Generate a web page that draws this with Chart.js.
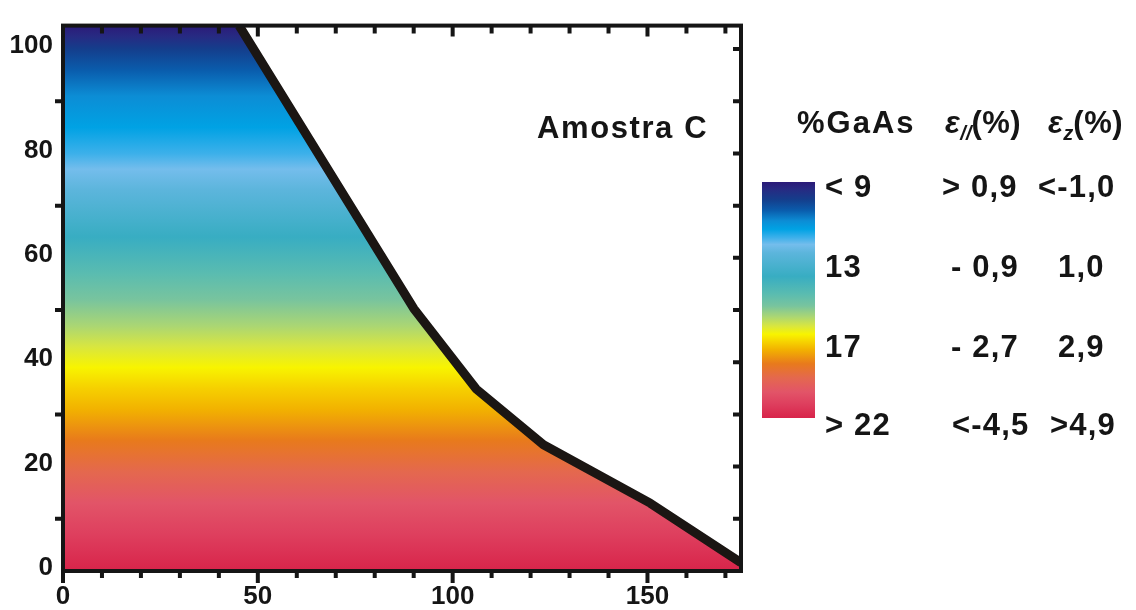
<!DOCTYPE html>
<html>
<head>
<meta charset="utf-8">
<script src="https://cdn.jsdelivr.net/npm/chart.js@4.4.1/dist/chart.umd.min.js"></script>
<style>
  html, body { margin: 0; padding: 0; background: #fff; }
  #wrap { position: relative; width: 1136px; height: 610px; overflow: hidden;
          font-family: "Liberation Sans", Arial, Helvetica, sans-serif; color: #151515; }
  #c { position: absolute; left: 0; top: 0; }
  .t { position: absolute; white-space: nowrap; font-weight: bold; font-size: 31px;
       line-height: 31px; letter-spacing: 1.2px; }
  .eps { font-style: italic; }
  .sub { font-style: italic; font-size: 20px; position: relative; top: 7px; letter-spacing: 0; }
  #bar { position: absolute; left: 762px; top: 182px; width: 53px; height: 236px; }
</style>
</head>
<body>
<div id="wrap">
  <canvas id="c" width="1136" height="610"></canvas>
  <div id="bar"></div>
</div>
<script>
// ---- data ----
const xTicks = [0, 50, 100, 150];
const yTicks = [0, 20, 40, 60, 80, 100];
const xMax = 174;
const yMax = 104.5;

// upper boundary of the GaAs-rich region (first point closes the area along the top edge)
const boundaryX = [0, 45.2, 90, 106, 123.3, 150.7, 174];
const boundaryY = [104.5, 104.5, 50.3, 34.9, 24.2, 13.0, 1.6];

const sampleName = 'Amostra C';
const legendHeaders = ['%GaAs', 'ε//(%)', 'εz(%)'];
const legendGaAs   = ['< 9', '13', '17', '> 22'];
const legendEpsPar = ['> 0,9', '- 0,9', '- 2,7', '<-4,5'];
const legendEpsZ   = ['<-1,0', '1,0', '2,9', '>4,9'];

// ---- styling ----
// colour ramp along the vertical axis (data value, colour)
const rampValues = [0, 7, 13, 19, 25, 31, 35, 39, 43, 47, 52, 57, 64, 73, 77, 80, 85, 91, 96, 100, 102.5, 104.5];
const rampColors = ['#d8244a', '#de3f5e', '#e25468', '#e4684e', '#e87a1c', '#f2b200', '#f6d000', '#f8f400',
                    '#d8e640', '#aad674', '#78c49e', '#5abcb0', '#38adc2', '#5cb5dc', '#74bdec', '#3cb0ea',
                    '#00a2e4', '#0c8dd5', '#0a5cac', '#143e8c', '#272a82', '#2b1a78'];
// where each ramp colour sits on the colour bar (0 = top, 1 = bottom)
const barOffsets = [1.0, 0.94, 0.89, 0.83, 0.77, 0.71, 0.68, 0.645, 0.61, 0.57, 0.525, 0.475, 0.40, 0.30, 0.265,
                    0.235, 0.20, 0.165, 0.12, 0.075, 0.03, 0.0];

const ink = '#151515';
const frameW = 4;

// colour bar
(function () {
  const parts = rampColors.map((c, i) => ({ c, o: barOffsets[i] })).sort((a, b) => a.o - b.o)
    .map(p => `${p.c} ${(p.o * 100).toFixed(1)}%`);
  document.getElementById('bar').style.background = `linear-gradient(to bottom, ${parts.join(', ')})`;
})();

// text block on the right
function addText(html, left, baseline, extra) {
  const d = document.createElement('div');
  d.className = 't';
  d.innerHTML = html;
  d.style.left = left + 'px';
  d.style.top = (baseline - 26.2) + 'px';
  if (extra) Object.assign(d.style, extra);
  document.getElementById('wrap').appendChild(d);
}
function epsHtml(label) {
  // "ε" + subscript + rest
  const sub = label.slice(1, label.indexOf('('));
  const rest = label.slice(label.indexOf('('));
  return `<span class="eps">ε</span><span class="sub">${sub}</span>${rest}`;
}
addText(sampleName, 537, 138, { letterSpacing: '1.6px' });
addText(legendHeaders[0], 797, 133, { letterSpacing: '2px' });
addText(epsHtml(legendHeaders[1]), 945, 133, { letterSpacing: '0.5px' });
addText(epsHtml(legendHeaders[2]), 1048, 133, { letterSpacing: '0.5px' });

const rowBase = [197, 277, 357, 435];
const col2Left = [942, 951, 951, 952];
const col3Left = [1038, 1058, 1058, 1050];
legendGaAs.forEach((s, i) => addText(s, 825, rowBase[i]));
legendEpsPar.forEach((s, i) => addText(s, col2Left[i], rowBase[i]));
legendEpsZ.forEach((s, i) => addText(s, col3Left[i], rowBase[i]));

// ---- chart ----
function rampGradient(ctx) {
  const chart = ctx.chart;
  const { chartArea, scales } = chart;
  if (!chartArea) return null;
  const y0 = scales.y.getPixelForValue(0);
  const y1 = scales.y.getPixelForValue(yMax);
  const g = chart.ctx.createLinearGradient(0, y0, 0, y1);
  rampValues.forEach((v, i) => g.addColorStop(Math.min(1, v / yMax), rampColors[i]));
  return g;
}

const framePlugin = {
  id: 'frame',
  afterDatasetsDraw(chart) {
    const { ctx, chartArea: a, scales: { x, y } } = chart;
    ctx.save();
    ctx.strokeStyle = ink;
    ctx.lineWidth = frameW;
    ctx.lineCap = 'butt';
    ctx.strokeRect(a.left, a.top, a.right - a.left, a.bottom - a.top);
    ctx.beginPath();
    for (let v = 0; v <= 170; v += 10) {
      const px = x.getPixelForValue(v);
      const major = v % 50 === 0;
      ctx.moveTo(px, a.bottom); ctx.lineTo(px, a.bottom + (major ? 12 : 7));
      ctx.moveTo(px, a.top);    ctx.lineTo(px, a.top + (major ? 11 : 8));
    }
    for (let v = 0; v <= 100; v += 10) {
      const py = y.getPixelForValue(v);
      if (v % 20 !== 0) { ctx.moveTo(a.left, py); ctx.lineTo(a.left - 8, py); }
      ctx.moveTo(a.right, py); ctx.lineTo(a.right - 8, py);
    }
    ctx.stroke();
    ctx.restore();
  }
};

const tickFont = { family: '"Liberation Sans", Arial, sans-serif', size: 26, weight: 'bold' };
const points = boundaryX.map((x, i) => ({ x, y: boundaryY[i] }));

new Chart(document.getElementById('c'), {
  type: 'line',
  data: {
    datasets: [
      {
        // the boundary itself, drawn above the area
        data: points.slice(1),
        order: 0,
        fill: false,
        borderColor: '#1b1613',
        borderWidth: 9,
        borderJoinStyle: 'round',
        pointRadius: 0,
        tension: 0,
        clip: 0
      },
      {
        // coloured area under the boundary
        data: points,
        order: 1,
        fill: 'origin',
        backgroundColor: rampGradient,
        borderColor: 'rgba(0,0,0,0)',
        borderWidth: 1,
        pointRadius: 0,
        tension: 0,
        clip: 0
      }
    ]
  },
  options: {
    responsive: false,
    animation: false,
    devicePixelRatio: 1,
    layout: { padding: { top: 14, right: 1136 - 741, left: 0, bottom: 0 } },
    plugins: { legend: { display: false }, tooltip: { enabled: false } },
    scales: {
      x: {
        type: 'linear', min: 0, max: xMax,
        grid: { display: false, drawTicks: false },
        border: { display: false },
        ticks: { font: tickFont, color: ink, padding: 10, maxRotation: 0 },
        afterBuildTicks: s => { s.ticks = xTicks.map(v => ({ value: v })); },
        afterFit: s => { s.height = 610 - 571; }
      },
      y: {
        type: 'linear', min: 0, max: yMax,
        grid: { display: false, drawTicks: false },
        border: { display: false },
        ticks: { font: tickFont, color: ink, padding: 10, labelOffset: -3 },
        afterBuildTicks: s => { s.ticks = yTicks.map(v => ({ value: v })); },
        afterFit: s => { s.width = 63; }
      }
    }
  },
  plugins: [framePlugin]
});
</script>
</body>
</html>
